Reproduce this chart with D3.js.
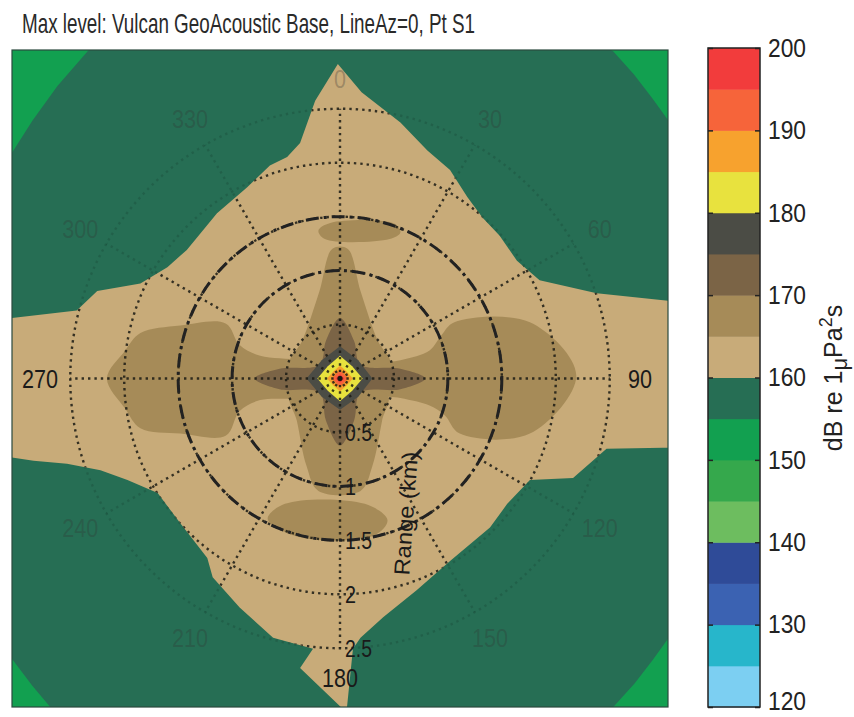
<!DOCTYPE html>
<html><head><meta charset="utf-8">
<script src="https://cdn.jsdelivr.net/npm/d3@7"></script>
<style>body{margin:0;background:#fff;} text{font-family:"Liberation Sans",Arial,sans-serif;}</style>
</head><body><svg id="chart" width="854" height="717"></svg>
<script>
// ---------------- data ----------------
const levels = [120,125,130,135,140,145,150,155,160,165,170,175,180,185,190,195,200];
const levelColors = ["#7ccff2","#27b6cb","#3b62b2","#2f4b98","#6dbd5f","#35a84c","#12a050","#266e54",
                     "#c8ab79","#a68b58","#7b6446","#4b4c45","#e8e23e","#f7a22e","#f6643a","#f23c3c"];
const cbTicks = [120,130,140,150,160,170,180,190,200];
const angleTicks = [0,30,60,90,120,150,180,210,240,270,300,330];
const rangeTicks = [0.5,1,1.5,2,2.5];
const rangeTickLabels = ["0.5","1","1.5","2","2.5"];
const dashRings = [1.0,1.5];

// 155 dB contour (polar: azimuth deg, range km)
const c155Az    = [0,15,30,39.9,44,48,51.9,60,75,90,105,120,128.2,132,136,140.2,150,165,180,195,210,221.4,225,229.3,240,255,270,285,295,304.5,310,316,322.4,330,345];
const c155Range = [3.9,3.9,3.9,3.95,3.92,3.89,3.87,3.9,3.9,3.9,3.9,3.9,3.88,3.9,3.93,3.96,4.0,4.0,4.0,4.0,4.05,4.06,4.03,4.0,3.9,3.9,3.9,3.9,3.75,3.69,3.72,3.77,3.83,3.9,3.9];

// 160 dB contour (east, north km)
const c160 = [[-0.02,2.91],[0.20,2.65],[0.56,2.37],[0.81,2.11],[1.02,1.93],[1.18,1.68],[1.32,1.49],[1.48,1.32],
  [1.64,1.09],[1.85,0.91],[2.38,0.79],[3.04,0.72],[3.2,0.72],[3.2,-0.64],[2.99,-0.64],[2.47,-0.65],[2.16,-0.92],
  [1.76,-0.94],[1.55,-1.16],[1.39,-1.38],[1.02,-1.69],[0.71,-1.96],[0.40,-2.21],[0.19,-2.40],[0.12,-2.50],
  [0.06,-3.09],[-0.37,-2.68],[-0.25,-2.50],[-0.62,-2.40],[-0.93,-2.12],[-1.18,-1.84],[-1.23,-1.66],[-1.48,-1.34],
  [-1.69,-1.06],[-1.97,-0.94],[-2.22,-0.85],[-2.53,-0.79],[-2.84,-0.76],[-3.04,-0.73],[-3.2,-0.73],[-3.2,0.56],
  [-3.04,0.56],[-2.44,0.63],[-2.25,0.81],[-1.85,0.88],[-1.60,1.03],[-1.42,1.19],[-1.14,1.53],[-0.86,1.77],
  [-0.65,1.97],[-0.49,2.05],[-0.37,2.18],[-0.23,2.57]];

// 165 dB contours
const c165West = [[-2.16,0],[-1.99,0.26],[-1.85,0.42],[-1.48,0.49],[-1.06,0.51],[-0.93,0.31],[-0.74,0.21],[-0.37,0.17],
  [-0.14,0.11],[-0.14,-0.11],[-0.37,-0.18],[-0.74,-0.20],[-0.93,-0.30],[-1.06,-0.53],[-1.48,-0.51],[-1.85,-0.46],[-1.99,-0.28]];
const c165East = [[0.14,0.11],[0.56,0.17],[0.83,0.26],[0.94,0.40],[1.06,0.52],[1.76,0.52],[2.19,0.03],[1.76,-0.51],
  [1.11,-0.51],[0.97,-0.34],[0.83,-0.25],[0.56,-0.18],[0.14,-0.11]];
const c165North = [[-0.07,1.20],[0.07,1.20],[0.19,0.81],[0.35,0.35],[0.46,0.15],[-0.46,0.15],[-0.35,0.35],[-0.19,0.81]];
const c165NorthPatch = [[-0.20,1.37],[-0.09,1.44],[0.51,1.43],[0.56,1.35],[0.46,1.29],[-0.14,1.29]];
const c165South = [[-0.46,-0.15],[0.44,-0.15],[0.39,-0.39],[0.30,-0.81],[0.19,-1.04],[-0.20,-1.04],[-0.31,-0.81],[-0.40,-0.39]];
const c165SouthPatch = [[-0.67,-1.30],[-0.51,-1.16],[0.23,-1.16],[0.44,-1.31],[0.32,-1.45],[-0.37,-1.47]];

// 170 dB contour
const c170 = [[-0.79,0],[-0.56,0.09],[-0.19,0.13],[-0.13,0.35],[0,0.56],[0.13,0.35],[0.19,0.13],[0.56,0.09],[0.79,0],
  [0.56,-0.10],[0.19,-0.13],[0.13,-0.39],[0,-0.62],[-0.13,-0.39],[-0.19,-0.13],[-0.56,-0.10]];

// core contours (polar)
const coreAz = [0,45,90,135,180,225,270,315];
const core175 = [0.30,0.24,0.30,0.24,0.29,0.24,0.31,0.24];
const core180 = [0.21,0.16,0.21,0.16,0.21,0.16,0.21,0.16];
const core185 = [0.12,0.09,0.12,0.09,0.12,0.09,0.12,0.09];
const core190 = [0.075,0.055,0.075,0.055,0.075,0.055,0.075,0.055];
const core195 = [0.04,0.03,0.04,0.03,0.04,0.03,0.04,0.03];

// ---------------- drawing ----------------
const svg = d3.select("#chart");
const P = {x0:12, x1:668, y0:50, y1:707};
const x = d3.scaleLinear().domain([-3.04,3.04]).range([P.x0,P.x1]);
const y = d3.scaleLinear().domain([-3.04,3.04]).range([P.y1,P.y0]);
const cx = x(0), cy = y(0);
const r = d3.scaleLinear().domain([0,3.04]).range([0,(P.x1-P.x0)/2]);
const color = d3.scaleThreshold().domain(levels.slice(1,-1)).range(levelColors);
const col = lv => color(lv + 0.1);

const defs = svg.append("defs");
defs.append("clipPath").attr("id","plotClip").append("rect")
  .attr("x",P.x0).attr("y",P.y0).attr("width",P.x1-P.x0).attr("height",P.y1-P.y0);
const lineXY = d3.line().x(d=>x(d[0])).y(d=>y(d[1])).curve(d3.curveLinearClosed);
const lineXYs = d3.line().x(d=>x(d[0])).y(d=>y(d[1])).curve(d3.curveCatmullRomClosed.alpha(0.5));
const polar = (az, rg) => az.map((a,i)=>({a, r:rg[i]}));
const lineRadLin = d3.lineRadial().angle(d=>d.a*Math.PI/180).radius(d=>r(d.r)).curve(d3.curveLinearClosed);

defs.append("clipPath").attr("id","tanClip").append("path").attr("d", lineXY(c160));

const g = svg.append("g").attr("clip-path","url(#plotClip)");
g.append("rect").attr("x",P.x0).attr("y",P.y0).attr("width",P.x1-P.x0).attr("height",P.y1-P.y0).attr("fill",col(150));
g.append("path").attr("transform",`translate(${cx},${cy})`).attr("d",lineRadLin(polar(c155Az,c155Range))).attr("fill",col(155));

function drawGrid(sel, stroke, op){
  const gg = sel.append("g").attr("stroke",stroke).attr("stroke-opacity",op).attr("fill","none")
    .attr("stroke-width",2.4).attr("stroke-dasharray","2.4,4").attr("stroke-linecap","butt");
  rangeTicks.forEach(v=>gg.append("circle").attr("cx",cx).attr("cy",cy).attr("r",r(v)));
  angleTicks.forEach(a=>{
    const t=a*Math.PI/180;
    gg.append("line").attr("x1",cx).attr("y1",cy)
      .attr("x2",cx+r(2.5)*Math.sin(t)).attr("y2",cy-r(2.5)*Math.cos(t));
  });
}
drawGrid(g,"#000",0.12);

g.append("path").attr("d",lineXY(c160)).attr("fill",col(160));
[c165West,c165East,c165North,c165NorthPatch,c165South,c165SouthPatch].forEach(c=>
  g.append("path").attr("d",lineXYs(c)).attr("fill",col(165)));
g.append("path").attr("d",lineXYs(c170)).attr("fill",col(170));
[[core175,175],[core180,180],[core185,185],[core190,190],[core195,195]].forEach(([c,lv])=>
  g.append("path").attr("transform",`translate(${cx},${cy})`).attr("d",lineRadLin(polar(coreAz,c))).attr("fill",col(lv)));

const gTan = g.append("g").attr("clip-path","url(#tanClip)");
drawGrid(gTan,"#1a1a14",0.85);

dashRings.forEach(v=>g.append("circle").attr("cx",cx).attr("cy",cy).attr("r",r(v))
  .attr("fill","none").attr("stroke","#222").attr("stroke-width",3).attr("stroke-dasharray","13,5,3,5"));

const strong = new Set([90,180,270]);
angleTicks.forEach(a=>{
  const t=a*Math.PI/180, rr=r(2.78);
  const s=String(a);
  g.append("text").attr("x",cx+rr*Math.sin(t)).attr("y",cy-rr*Math.cos(t))
    .attr("text-anchor","middle").attr("dominant-baseline","central")
    .attr("font-size",26).attr("textLength",s.length*12).attr("lengthAdjust","spacingAndGlyphs")
    .attr("fill",strong.has(a)?"#1a1a1a":"#333").attr("fill-opacity",strong.has(a)?1:0.3).text(s);
});
rangeTicks.forEach((v,i)=>{
  const s=rangeTickLabels[i];
  g.append("text").attr("x",cx+5).attr("y",cy+r(v)).attr("dominant-baseline","central")
    .attr("font-size",24).attr("textLength",s.replace(".","").length*11+(s.includes(".")?5:0)).attr("lengthAdjust","spacingAndGlyphs")
    .attr("fill","#1a1a1a").text(s);
});
g.append("text").attr("transform",`translate(${cx+66},${cy+r(1.25)}) rotate(-86)`)
  .attr("text-anchor","middle").attr("dominant-baseline","central").attr("font-size",22)
  .attr("textLength",124).attr("lengthAdjust","spacingAndGlyphs").attr("fill","#1a1a1a").text("Range (km)");

svg.append("rect").attr("x",P.x0).attr("y",P.y0).attr("width",P.x1-P.x0).attr("height",P.y1-P.y0)
  .attr("fill","none").attr("stroke","#2b4a3e").attr("stroke-width",1.2);

svg.append("text").attr("x",22).attr("y",33).attr("font-size",28).attr("fill","#2a2a2a")
  .attr("textLength",453).attr("lengthAdjust","spacingAndGlyphs")
  .text("Max level: Vulcan GeoAcoustic Base, LineAz=0, Pt S1");

// colorbar
const CB = {x0:708, x1:760};
const cbY = d3.scaleLinear().domain([120,200]).range([707,48]);
const cb = svg.append("g");
levels.slice(0,-1).forEach(lv=>{
  cb.append("rect").attr("x",CB.x0).attr("width",CB.x1-CB.x0)
    .attr("y",cbY(lv+5)).attr("height",cbY(lv)-cbY(lv+5)+0.5).attr("fill",col(lv));
});
cb.append("rect").attr("x",CB.x0).attr("y",cbY(200)).attr("width",CB.x1-CB.x0).attr("height",cbY(120)-cbY(200))
  .attr("fill","none").attr("stroke","#222").attr("stroke-width",1.5);
const ax = d3.axisRight(cbY).tickValues(cbTicks).tickSize(-5).tickPadding(8).tickFormat(d3.format("d"));
const axG = cb.append("g").attr("transform",`translate(${CB.x1},0)`).call(ax);
axG.select(".domain").remove();
axG.selectAll(".tick line").attr("stroke","#222").attr("stroke-width",1.5);
axG.selectAll(".tick text").attr("font-size",26).attr("fill","#222")
  .attr("font-family","Liberation Sans, Arial, sans-serif")
  .attr("textLength",38).attr("lengthAdjust","spacingAndGlyphs")
  .attr("dy", d => d===120 ? "0.1em" : "0.32em");
const axL = d3.axisLeft(cbY).tickValues(cbTicks).tickSize(-5).tickFormat("");
const axLG = cb.append("g").attr("transform",`translate(${CB.x0},0)`).call(axL);
axLG.select(".domain").remove();
axLG.selectAll(".tick line").attr("stroke","#222").attr("stroke-width",1.5);

const lab = svg.append("text").attr("transform","translate(842,378) rotate(-90)")
  .attr("text-anchor","middle").attr("font-size",25).attr("fill","#222");
lab.append("tspan").text("dB re 1");
lab.append("tspan").attr("dy",5).attr("font-size",22).text("μ");
lab.append("tspan").attr("dy",-5).text("Pa");
lab.append("tspan").attr("dy",-10).attr("font-size",18).text("2");
lab.append("tspan").attr("dy",10).text("s");
</script></body></html>
